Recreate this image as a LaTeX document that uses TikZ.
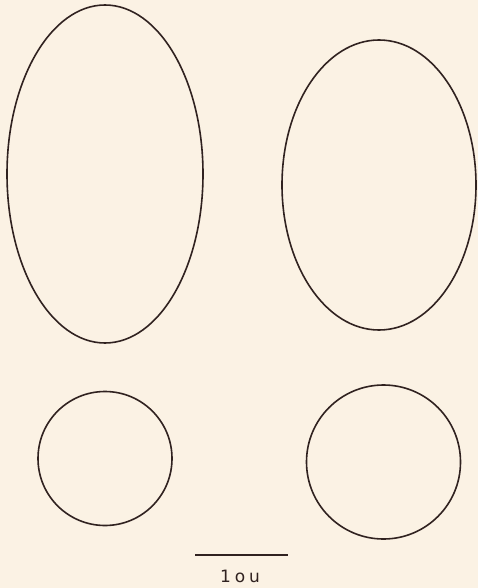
\documentclass[tikz,border=0pt]{standalone}
\usepackage{fontspec}
\setsansfont{DejaVu Sans}
\definecolor{paper}{RGB}{251,242,228}
\definecolor{ink}{RGB}{48,34,32}
\begin{document}
\begin{tikzpicture}[x=1pt,y=-1pt,
  outline/.style={draw=ink,line width=1.6pt},
  label/.style={text=ink,font=\sffamily\fontsize{17}{17}\selectfont}]
\fill[paper] (0,0) rectangle (478,588);
\useasboundingbox (0,0) rectangle (478,588);
% large cells
\draw[outline] (105,174) ellipse [x radius=98, y radius=169];
\draw[outline] (379,185) ellipse [x radius=97, y radius=145];
% small cells
\draw[outline] (105,458.5) circle [radius=67];
\draw[outline] (383.5,462) circle [radius=77];
% scale bar
\coordinate (sbL) at (195,555);
\coordinate (sbR) at (288,555);
\draw[outline] (sbL) -- (sbR);
\node[label] (sblab) at (240,576) {1\hspace{4pt}o\hspace{4pt}u};
\end{tikzpicture}
\end{document}
